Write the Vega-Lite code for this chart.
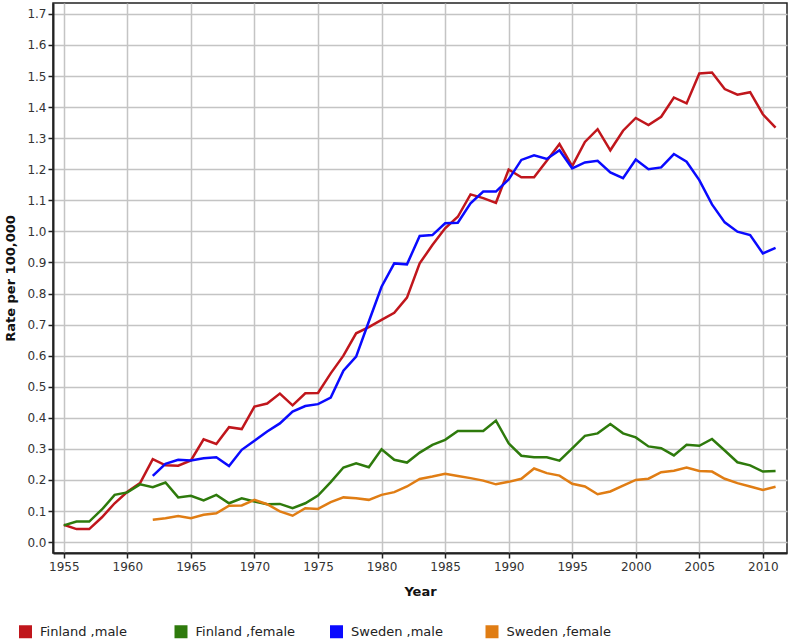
{
  "$schema": "https://vega.github.io/schema/vega-lite/v6.json",
  "width": 734,
  "height": 550,
  "autosize": {"type": "none"},
  "padding": {"left": 53, "top": 3, "right": 3, "bottom": 88},
  "background": "white",
  "config": {
    "font": "DejaVu Sans",
    "view": {"stroke": "#222222", "strokeWidth": 1.5},
    "axis": {
      "labelFont": "DejaVu Sans",
      "labelFontSize": 12,
      "labelColor": "#333333",
      "titleFont": "DejaVu Sans",
      "titleFontSize": 13,
      "titleFontWeight": "bold",
      "titleColor": "#111111",
      "domainColor": "#222222",
      "domainWidth": 2,
      "tickColor": "#222222",
      "tickWidth": 1.5,
      "tickSize": 5,
      "gridColor": "#c4c4c4",
      "gridWidth": 1.5,
      "gridOpacity": 1
    }
  },
  "datasets": {
    "rates": [
      {"series": "Finland ,male", "year": 1955, "rate": 0.056},
      {"series": "Finland ,male", "year": 1956, "rate": 0.042},
      {"series": "Finland ,male", "year": 1957, "rate": 0.042},
      {"series": "Finland ,male", "year": 1958, "rate": 0.08},
      {"series": "Finland ,male", "year": 1959, "rate": 0.125},
      {"series": "Finland ,male", "year": 1960, "rate": 0.162},
      {"series": "Finland ,male", "year": 1961, "rate": 0.19},
      {"series": "Finland ,male", "year": 1962, "rate": 0.267},
      {"series": "Finland ,male", "year": 1963, "rate": 0.247},
      {"series": "Finland ,male", "year": 1964, "rate": 0.246},
      {"series": "Finland ,male", "year": 1965, "rate": 0.263},
      {"series": "Finland ,male", "year": 1966, "rate": 0.331},
      {"series": "Finland ,male", "year": 1967, "rate": 0.316},
      {"series": "Finland ,male", "year": 1968, "rate": 0.37},
      {"series": "Finland ,male", "year": 1969, "rate": 0.364},
      {"series": "Finland ,male", "year": 1970, "rate": 0.436},
      {"series": "Finland ,male", "year": 1971, "rate": 0.446},
      {"series": "Finland ,male", "year": 1972, "rate": 0.478},
      {"series": "Finland ,male", "year": 1973, "rate": 0.44},
      {"series": "Finland ,male", "year": 1974, "rate": 0.479},
      {"series": "Finland ,male", "year": 1975, "rate": 0.48},
      {"series": "Finland ,male", "year": 1976, "rate": 0.543},
      {"series": "Finland ,male", "year": 1977, "rate": 0.6},
      {"series": "Finland ,male", "year": 1978, "rate": 0.672},
      {"series": "Finland ,male", "year": 1979, "rate": 0.692},
      {"series": "Finland ,male", "year": 1980, "rate": 0.715},
      {"series": "Finland ,male", "year": 1981, "rate": 0.738},
      {"series": "Finland ,male", "year": 1982, "rate": 0.787},
      {"series": "Finland ,male", "year": 1983, "rate": 0.897},
      {"series": "Finland ,male", "year": 1984, "rate": 0.956},
      {"series": "Finland ,male", "year": 1985, "rate": 1.01},
      {"series": "Finland ,male", "year": 1986, "rate": 1.047},
      {"series": "Finland ,male", "year": 1987, "rate": 1.119},
      {"series": "Finland ,male", "year": 1988, "rate": 1.107},
      {"series": "Finland ,male", "year": 1989, "rate": 1.092},
      {"series": "Finland ,male", "year": 1990, "rate": 1.199},
      {"series": "Finland ,male", "year": 1991, "rate": 1.174},
      {"series": "Finland ,male", "year": 1992, "rate": 1.174},
      {"series": "Finland ,male", "year": 1993, "rate": 1.227},
      {"series": "Finland ,male", "year": 1994, "rate": 1.281},
      {"series": "Finland ,male", "year": 1995, "rate": 1.21},
      {"series": "Finland ,male", "year": 1996, "rate": 1.288},
      {"series": "Finland ,male", "year": 1997, "rate": 1.329},
      {"series": "Finland ,male", "year": 1998, "rate": 1.261},
      {"series": "Finland ,male", "year": 1999, "rate": 1.324},
      {"series": "Finland ,male", "year": 2000, "rate": 1.365},
      {"series": "Finland ,male", "year": 2001, "rate": 1.342},
      {"series": "Finland ,male", "year": 2002, "rate": 1.369},
      {"series": "Finland ,male", "year": 2003, "rate": 1.431},
      {"series": "Finland ,male", "year": 2004, "rate": 1.412},
      {"series": "Finland ,male", "year": 2005, "rate": 1.508},
      {"series": "Finland ,male", "year": 2006, "rate": 1.511},
      {"series": "Finland ,male", "year": 2007, "rate": 1.458},
      {"series": "Finland ,male", "year": 2008, "rate": 1.44},
      {"series": "Finland ,male", "year": 2009, "rate": 1.448},
      {"series": "Finland ,male", "year": 2010, "rate": 1.377},
      {"series": "Finland ,male", "year": 2011, "rate": 1.334},

      {"series": "Finland ,female", "year": 1955, "rate": 0.054},
      {"series": "Finland ,female", "year": 1956, "rate": 0.066},
      {"series": "Finland ,female", "year": 1957, "rate": 0.066},
      {"series": "Finland ,female", "year": 1958, "rate": 0.105},
      {"series": "Finland ,female", "year": 1959, "rate": 0.152},
      {"series": "Finland ,female", "year": 1960, "rate": 0.16},
      {"series": "Finland ,female", "year": 1961, "rate": 0.186},
      {"series": "Finland ,female", "year": 1962, "rate": 0.177},
      {"series": "Finland ,female", "year": 1963, "rate": 0.192},
      {"series": "Finland ,female", "year": 1964, "rate": 0.144},
      {"series": "Finland ,female", "year": 1965, "rate": 0.149},
      {"series": "Finland ,female", "year": 1966, "rate": 0.134},
      {"series": "Finland ,female", "year": 1967, "rate": 0.152},
      {"series": "Finland ,female", "year": 1968, "rate": 0.125},
      {"series": "Finland ,female", "year": 1969, "rate": 0.141},
      {"series": "Finland ,female", "year": 1970, "rate": 0.131},
      {"series": "Finland ,female", "year": 1971, "rate": 0.122},
      {"series": "Finland ,female", "year": 1972, "rate": 0.123},
      {"series": "Finland ,female", "year": 1973, "rate": 0.109},
      {"series": "Finland ,female", "year": 1974, "rate": 0.125},
      {"series": "Finland ,female", "year": 1975, "rate": 0.15},
      {"series": "Finland ,female", "year": 1976, "rate": 0.193},
      {"series": "Finland ,female", "year": 1977, "rate": 0.24},
      {"series": "Finland ,female", "year": 1978, "rate": 0.254},
      {"series": "Finland ,female", "year": 1979, "rate": 0.241},
      {"series": "Finland ,female", "year": 1980, "rate": 0.299},
      {"series": "Finland ,female", "year": 1981, "rate": 0.265},
      {"series": "Finland ,female", "year": 1982, "rate": 0.256},
      {"series": "Finland ,female", "year": 1983, "rate": 0.288},
      {"series": "Finland ,female", "year": 1984, "rate": 0.313},
      {"series": "Finland ,female", "year": 1985, "rate": 0.329},
      {"series": "Finland ,female", "year": 1986, "rate": 0.358},
      {"series": "Finland ,female", "year": 1987, "rate": 0.358},
      {"series": "Finland ,female", "year": 1988, "rate": 0.358},
      {"series": "Finland ,female", "year": 1989, "rate": 0.391},
      {"series": "Finland ,female", "year": 1990, "rate": 0.318},
      {"series": "Finland ,female", "year": 1991, "rate": 0.278},
      {"series": "Finland ,female", "year": 1992, "rate": 0.273},
      {"series": "Finland ,female", "year": 1993, "rate": 0.273},
      {"series": "Finland ,female", "year": 1994, "rate": 0.262},
      {"series": "Finland ,female", "year": 1995, "rate": 0.302},
      {"series": "Finland ,female", "year": 1996, "rate": 0.342},
      {"series": "Finland ,female", "year": 1997, "rate": 0.35},
      {"series": "Finland ,female", "year": 1998, "rate": 0.38},
      {"series": "Finland ,female", "year": 1999, "rate": 0.35},
      {"series": "Finland ,female", "year": 2000, "rate": 0.337},
      {"series": "Finland ,female", "year": 2001, "rate": 0.308},
      {"series": "Finland ,female", "year": 2002, "rate": 0.302},
      {"series": "Finland ,female", "year": 2003, "rate": 0.279},
      {"series": "Finland ,female", "year": 2004, "rate": 0.313},
      {"series": "Finland ,female", "year": 2005, "rate": 0.31},
      {"series": "Finland ,female", "year": 2006, "rate": 0.332},
      {"series": "Finland ,female", "year": 2007, "rate": 0.295},
      {"series": "Finland ,female", "year": 2008, "rate": 0.257},
      {"series": "Finland ,female", "year": 2009, "rate": 0.247},
      {"series": "Finland ,female", "year": 2010, "rate": 0.227},
      {"series": "Finland ,female", "year": 2011, "rate": 0.229},

      {"series": "Sweden ,male", "year": 1962, "rate": 0.213},
      {"series": "Sweden ,male", "year": 1963, "rate": 0.252},
      {"series": "Sweden ,male", "year": 1964, "rate": 0.265},
      {"series": "Sweden ,male", "year": 1965, "rate": 0.263},
      {"series": "Sweden ,male", "year": 1966, "rate": 0.27},
      {"series": "Sweden ,male", "year": 1967, "rate": 0.273},
      {"series": "Sweden ,male", "year": 1968, "rate": 0.245},
      {"series": "Sweden ,male", "year": 1969, "rate": 0.297},
      {"series": "Sweden ,male", "year": 1970, "rate": 0.326},
      {"series": "Sweden ,male", "year": 1971, "rate": 0.356},
      {"series": "Sweden ,male", "year": 1972, "rate": 0.382},
      {"series": "Sweden ,male", "year": 1973, "rate": 0.42},
      {"series": "Sweden ,male", "year": 1974, "rate": 0.438},
      {"series": "Sweden ,male", "year": 1975, "rate": 0.444},
      {"series": "Sweden ,male", "year": 1976, "rate": 0.465},
      {"series": "Sweden ,male", "year": 1977, "rate": 0.552},
      {"series": "Sweden ,male", "year": 1978, "rate": 0.597},
      {"series": "Sweden ,male", "year": 1979, "rate": 0.71},
      {"series": "Sweden ,male", "year": 1980, "rate": 0.822},
      {"series": "Sweden ,male", "year": 1981, "rate": 0.897},
      {"series": "Sweden ,male", "year": 1982, "rate": 0.894},
      {"series": "Sweden ,male", "year": 1983, "rate": 0.985},
      {"series": "Sweden ,male", "year": 1984, "rate": 0.988},
      {"series": "Sweden ,male", "year": 1985, "rate": 1.026},
      {"series": "Sweden ,male", "year": 1986, "rate": 1.028},
      {"series": "Sweden ,male", "year": 1987, "rate": 1.09},
      {"series": "Sweden ,male", "year": 1988, "rate": 1.128},
      {"series": "Sweden ,male", "year": 1989, "rate": 1.128},
      {"series": "Sweden ,male", "year": 1990, "rate": 1.167},
      {"series": "Sweden ,male", "year": 1991, "rate": 1.23},
      {"series": "Sweden ,male", "year": 1992, "rate": 1.245},
      {"series": "Sweden ,male", "year": 1993, "rate": 1.233},
      {"series": "Sweden ,male", "year": 1994, "rate": 1.261},
      {"series": "Sweden ,male", "year": 1995, "rate": 1.203},
      {"series": "Sweden ,male", "year": 1996, "rate": 1.222},
      {"series": "Sweden ,male", "year": 1997, "rate": 1.227},
      {"series": "Sweden ,male", "year": 1998, "rate": 1.19},
      {"series": "Sweden ,male", "year": 1999, "rate": 1.171},
      {"series": "Sweden ,male", "year": 2000, "rate": 1.231},
      {"series": "Sweden ,male", "year": 2001, "rate": 1.2},
      {"series": "Sweden ,male", "year": 2002, "rate": 1.206},
      {"series": "Sweden ,male", "year": 2003, "rate": 1.249},
      {"series": "Sweden ,male", "year": 2004, "rate": 1.224},
      {"series": "Sweden ,male", "year": 2005, "rate": 1.165},
      {"series": "Sweden ,male", "year": 2006, "rate": 1.087},
      {"series": "Sweden ,male", "year": 2007, "rate": 1.029},
      {"series": "Sweden ,male", "year": 2008, "rate": 0.999},
      {"series": "Sweden ,male", "year": 2009, "rate": 0.988},
      {"series": "Sweden ,male", "year": 2010, "rate": 0.929},
      {"series": "Sweden ,male", "year": 2011, "rate": 0.947},

      {"series": "Sweden ,female", "year": 1962, "rate": 0.072},
      {"series": "Sweden ,female", "year": 1963, "rate": 0.077},
      {"series": "Sweden ,female", "year": 1964, "rate": 0.084},
      {"series": "Sweden ,female", "year": 1965, "rate": 0.077},
      {"series": "Sweden ,female", "year": 1966, "rate": 0.088},
      {"series": "Sweden ,female", "year": 1967, "rate": 0.093},
      {"series": "Sweden ,female", "year": 1968, "rate": 0.117},
      {"series": "Sweden ,female", "year": 1969, "rate": 0.118},
      {"series": "Sweden ,female", "year": 1970, "rate": 0.136},
      {"series": "Sweden ,female", "year": 1971, "rate": 0.122},
      {"series": "Sweden ,female", "year": 1972, "rate": 0.099},
      {"series": "Sweden ,female", "year": 1973, "rate": 0.085},
      {"series": "Sweden ,female", "year": 1974, "rate": 0.109},
      {"series": "Sweden ,female", "year": 1975, "rate": 0.107},
      {"series": "Sweden ,female", "year": 1976, "rate": 0.129},
      {"series": "Sweden ,female", "year": 1977, "rate": 0.144},
      {"series": "Sweden ,female", "year": 1978, "rate": 0.141},
      {"series": "Sweden ,female", "year": 1979, "rate": 0.136},
      {"series": "Sweden ,female", "year": 1980, "rate": 0.152},
      {"series": "Sweden ,female", "year": 1981, "rate": 0.161},
      {"series": "Sweden ,female", "year": 1982, "rate": 0.179},
      {"series": "Sweden ,female", "year": 1983, "rate": 0.203},
      {"series": "Sweden ,female", "year": 1984, "rate": 0.211},
      {"series": "Sweden ,female", "year": 1985, "rate": 0.22},
      {"series": "Sweden ,female", "year": 1986, "rate": 0.213},
      {"series": "Sweden ,female", "year": 1987, "rate": 0.206},
      {"series": "Sweden ,female", "year": 1988, "rate": 0.198},
      {"series": "Sweden ,female", "year": 1989, "rate": 0.186},
      {"series": "Sweden ,female", "year": 1990, "rate": 0.194},
      {"series": "Sweden ,female", "year": 1991, "rate": 0.204},
      {"series": "Sweden ,female", "year": 1992, "rate": 0.237},
      {"series": "Sweden ,female", "year": 1993, "rate": 0.222},
      {"series": "Sweden ,female", "year": 1994, "rate": 0.214},
      {"series": "Sweden ,female", "year": 1995, "rate": 0.188},
      {"series": "Sweden ,female", "year": 1996, "rate": 0.179},
      {"series": "Sweden ,female", "year": 1997, "rate": 0.154},
      {"series": "Sweden ,female", "year": 1998, "rate": 0.163},
      {"series": "Sweden ,female", "year": 1999, "rate": 0.182},
      {"series": "Sweden ,female", "year": 2000, "rate": 0.2},
      {"series": "Sweden ,female", "year": 2001, "rate": 0.204},
      {"series": "Sweden ,female", "year": 2002, "rate": 0.225},
      {"series": "Sweden ,female", "year": 2003, "rate": 0.23},
      {"series": "Sweden ,female", "year": 2004, "rate": 0.24},
      {"series": "Sweden ,female", "year": 2005, "rate": 0.229},
      {"series": "Sweden ,female", "year": 2006, "rate": 0.227},
      {"series": "Sweden ,female", "year": 2007, "rate": 0.204},
      {"series": "Sweden ,female", "year": 2008, "rate": 0.19},
      {"series": "Sweden ,female", "year": 2009, "rate": 0.179},
      {"series": "Sweden ,female", "year": 2010, "rate": 0.168},
      {"series": "Sweden ,female", "year": 2011, "rate": 0.178}
    ]
  },
  "data": {"name": "rates"},
  "mark": {"type": "line", "strokeWidth": 2.5, "clip": true},
  "encoding": {
    "x": {
      "field": "year",
      "type": "quantitative",
      "scale": {"domain": [1954.15, 2011.9], "nice": false, "zero": false},
      "axis": {
        "title": "Year",
        "values": [1955, 1960, 1965, 1970, 1975, 1980, 1985, 1990, 1995, 2000, 2005, 2010],
        "format": "d",
        "labelPadding": 3,
        "titlePadding": 13
      }
    },
    "y": {
      "field": "rate",
      "type": "quantitative",
      "scale": {"domain": [-0.035, 1.735], "nice": false, "zero": false},
      "axis": {
        "title": "Rate per 100,000",
        "values": [0, 0.1, 0.2, 0.3, 0.4, 0.5, 0.6, 0.7, 0.8, 0.9, 1.0, 1.1, 1.2, 1.3, 1.4, 1.5, 1.6, 1.7],
        "format": ".1f",
        "labelPadding": 2,
        "titlePadding": 9
      }
    },
    "color": {
      "field": "series",
      "type": "nominal",
      "scale": {
        "domain": ["Finland ,male", "Finland ,female", "Sweden ,male", "Sweden ,female"],
        "range": ["#c0161c", "#2e7a0c", "#0a0aff", "#e07d14"]
      },
      "legend": {
        "title": null,
        "orient": "none",
        "direction": "horizontal",
        "columns": 4,
        "gridAlign": "all",
        "legendX": -34,
        "legendY": 622,
        "symbolType": "square",
        "symbolSize": 169,
        "symbolStrokeWidth": 0,
        "labelFont": "DejaVu Sans",
        "labelFontSize": 13,
        "labelColor": "#222222",
        "labelOffset": 8,
        "columnPadding": 29.5,
        "encode": {
          "symbols": {"update": {"fill": {"scale": "color", "field": "value"}, "fillOpacity": {"value": 1}}}
        }
      }
    }
  }
}
